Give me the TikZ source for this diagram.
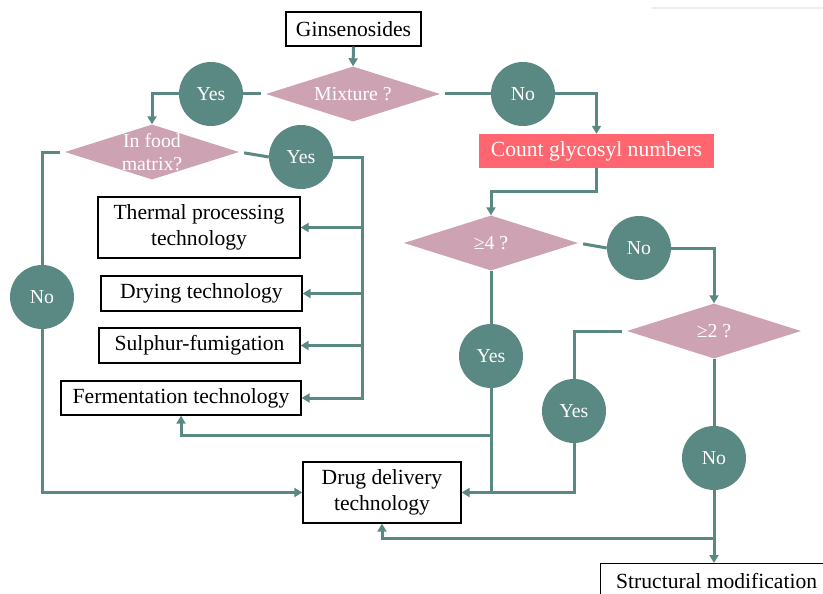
\documentclass[tikz,border=0pt]{standalone}
\usepackage{fontspec}
\setmainfont{Liberation Serif}
\usetikzlibrary{shapes.geometric,arrows.meta}
\definecolor{teal1}{RGB}{90,136,131}
\definecolor{pink1}{RGB}{205,162,179}
\definecolor{red1}{RGB}{255,102,112}
\tikzset{
  box/.style={draw=black,line width=1.3pt,fill=white,inner sep=0pt,align=center,
    font=\fontsize{21.6}{26}\selectfont},
  redbox/.style={fill=red1,inner sep=0pt,text=white,font=\fontsize{21.6}{26}\selectfont},
  dec/.style={diamond,fill=pink1,inner sep=0pt,minimum width=174pt,minimum height=55pt,shape aspect=3.2},
  dlabel/.style={text=white,align=center,font=\fontsize{19.8}{22}\selectfont},
  ans/.style={circle,fill=teal1,inner sep=0pt,minimum size=64pt,text=white,font=\fontsize{19.8}{22}\selectfont},
  conn/.style={draw=teal1,line width=3pt},
  arr/.style={conn,-{Triangle[width=9pt,length=8pt]}},
}
\begin{document}
\begin{tikzpicture}[x=1pt,y=-1pt]
\useasboundingbox (0,0) rectangle (823,594);
\clip (0,0) rectangle (823,594);
\fill[white] (0,0) rectangle (823,594);
\draw[black!7,line width=2pt] (652,8) -- (823,8);
% nodes
\node[box,minimum width=135pt,minimum height=34pt] (gin) at (353.5,29) {Ginsenosides};
\node[dec,label={[dlabel]center:Mixture ?}] (mix) at (353,94) {};
\node[ans] (yes1) at (211,94) {Yes};
\node[dec] (food) at (152,152) {};
\node[dlabel,font=\fontsize{19.8}{23}\selectfont] (foodtxt) at (152,152) {In food\\matrix?};
\node[ans] (yes2) at (301,157) {Yes};
\node[ans] (no1) at (42,297) {No};
\node[box,minimum width=202pt,minimum height=61pt] (therm) at (199,227.5) {Thermal processing\\technology};
\node[box,minimum width=201pt,minimum height=35pt] (dry) at (201.5,293.5) {Drying technology};
\node[box,minimum width=201pt,minimum height=35pt] (sulph) at (199.5,345.5) {Sulphur-fumigation};
\node[box,minimum width=240pt,minimum height=34pt] (ferm) at (181,398) {Fermentation technology};
\node[box,minimum width=158pt,minimum height=61pt] (drug) at (382,492.5) {Drug delivery\\technology};
\node[ans] (no2) at (523,94) {No};
\node[redbox,minimum width=235pt,minimum height=34pt] (count) at (596.5,151) {Count glycosyl numbers};
\node[dec,label={[dlabel]center:≥4 ?}] (ge4) at (491,243) {};
\node[ans] (no3) at (639,248) {No};
\node[dec,label={[dlabel]center:≥2 ?}] (ge2) at (714,331) {};
\node[ans] (yes3) at (491,356) {Yes};
\node[ans] (yes4) at (574,411) {Yes};
\node[ans] (no4) at (714,458) {No};
\node[box,minimum width=232pt,minimum height=34pt,anchor=north west] (struct) at (600,563) {Structural modification};
% coordinates
\coordinate (busx) at (362,152);
\coordinate (j1) at (491,435);
\coordinate (j2) at (714,538);
% connectors
\draw[arr] (gin.south) -- (mix.north);
\draw[conn,shorten <=5pt] (mix.west) -- (yes1.east);
\draw[arr] (yes1.west) -| (food.north);
\draw[conn,shorten <=5pt] (food.east) -- (yes2.west);
\draw[arr] (yes2.east) -| (busx |- ferm.east) -- (ferm.east);
\draw[arr] (busx |- therm.east) -- (therm.east);
\draw[arr] (busx |- dry.east) -- (dry.east);
\draw[arr] (busx |- sulph.east) -- (sulph.east);
\draw[conn,shorten <=5pt] (food.west) -| (no1.north);
\draw[arr] (no1.south) |- (drug.west);
\draw[conn,shorten <=5pt] (mix.east) -- (no2.west);
\draw[arr] (no2.east) -| (count.north);
\draw[arr] (count.south) -- ++(0,23) -| (ge4.north);
\draw[conn,shorten <=5pt] (ge4.east) -- (no3.west);
\draw[arr] (no3.east) -| (ge2.north);
\draw[conn] (ge4.south) -- (yes3.north);
\draw[arr] (yes3.south) |- (drug.east);
\draw[arr] (j1) -| (ferm.south);
\draw[conn,shorten <=5pt] (ge2.west) -| (yes4.north);
\draw[conn] (yes4.south) |- (yes3 |- drug.east);
\draw[conn] (ge2.south) -- (no4.north);
\draw[arr] (no4.south) -- (struct.north -| no4.south);
\draw[arr] (j2) -| (drug.south);
\end{tikzpicture}
\end{document}
